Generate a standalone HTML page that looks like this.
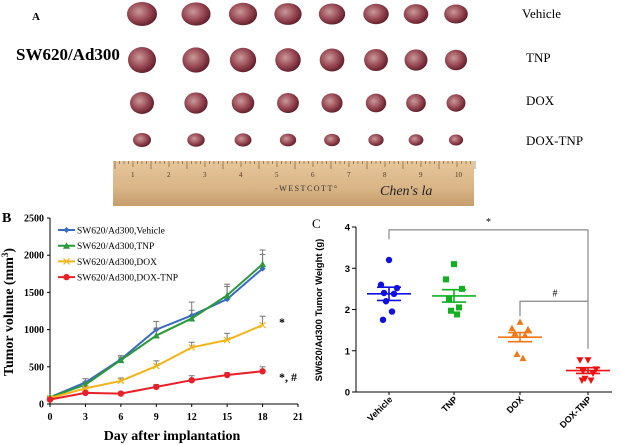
<!DOCTYPE html>
<html><head><meta charset="utf-8"><style>
body{margin:0;background:#fff;width:620px;height:445px;overflow:hidden;font-family:"Liberation Serif",serif}
svg{position:absolute;left:0;top:0}
</style></head><body>
<svg id="fig" width="620" height="445" viewBox="0 0 620 445" xmlns="http://www.w3.org/2000/svg">
<defs>
<radialGradient id="tum" cx="40%" cy="40%" r="65%"><stop offset="0" stop-color="#c99a9a"/><stop offset="0.55" stop-color="#9a4a55"/><stop offset="1" stop-color="#5a1a25"/></radialGradient>
<linearGradient id="wood" x1="0" y1="0" x2="0" y2="1"><stop offset="0" stop-color="#e6c79b"/><stop offset="0.6" stop-color="#d9b486"/><stop offset="1" stop-color="#c79d6c"/></linearGradient>
</defs>
<g>
<text x="32" y="20" font-size="11" font-weight="bold">A</text>
<text x="16" y="60" font-size="17" font-weight="bold">SW620/Ad300</text>
<text x="522" y="18" font-size="13">Vehicle</text>
<text x="526" y="62" font-size="13">TNP</text>
<text x="526" y="105" font-size="13">DOX</text>
<text x="526" y="145" font-size="13">DOX-TNP</text>
<g id="tumors"></g>
<g>
<rect x="113" y="161" width="361" height="45" fill="url(#wood)"/>
<g id="rticks"></g>
<text x="275" y="191" font-size="8" letter-spacing="1.5" fill="#333">-WESTCOTT°</text>
<text x="380" y="195" font-size="14" font-style="italic" fill="#222">Chen's la</text>
</g>
</g>
<g id="chartB"></g>
<g id="chartC"></g>
</svg>
<script>
const NS="http://www.w3.org/2000/svg";
function mk(p,tag,at,txt){const e=document.createElementNS(NS,tag);for(const k in at)e.setAttribute(k,at[k]);if(txt!==undefined)e.textContent=txt;p.appendChild(e);return e;}
// Panel A tumors (decorative)
const tg=document.getElementById('tumors');
const colX=[142,196,243,288,332,376,416,456];
const rowY=[14,60,103,140];
const rowR=[[15,12],[14,13],[12,11],[9,7]];
rowY.forEach((y,ri)=>colX.forEach((x,ci)=>{
 const s=1-ci*0.03;
 const t=mk(tg,'ellipse',{cx:x,cy:y,rx:rowR[ri][0]*s,ry:rowR[ri][1]*s,fill:'url(#tum)'});
 
 
}));
const rt=document.getElementById('rticks');
for(let i=0;i<=80;i++){const x=115+i*4.5;mk(rt,'line',{x1:x,y1:161,x2:x,y2:161+(i%8==0?8:i%4==0?6:3),stroke:'#6a5030','stroke-width':0.6});}
for(let i=1;i<=10;i++)mk(rt,'text',{x:113+(i-0.5)*36,y:177,'font-size':7,fill:'#4a3520'},String(i));

// ===== Chart B data =====
const days=[0,3,6,9,12,15,18];
const vehicle=[90,290,600,1000,1190,1410,1820];
const tnp=[90,260,590,920,1150,1460,1880];
const dox=[80,210,310,510,760,860,1060];
const doxTnp=[60,150,140,230,320,390,440];
const vehErr=[10,50,50,110,180,170,190];
const tnpErr=[10,40,40,100,110,150,190];
const doxErr=[10,30,40,70,70,90,120];
const dtErr=[10,20,20,30,60,30,60];
const bTicksY=[0,500,1000,1500,2000,2500];
const bTicksX=[0,3,6,9,12,15,18,21];
const seriesNames=['SW620/Ad300,Vehicle','SW620/Ad300,TNP','SW620/Ad300,DOX','SW620/Ad300,DOX-TNP'];
// ===== Chart C data =====
const groups=['Vehicle','TNP','DOX','DOX-TNP'];
const wVehicle=[3.2,2.6,2.52,2.4,2.38,2.2,1.95,1.75];
const wTnp=[3.1,2.73,2.5,2.25,2.05,1.97,1.88];
const wDox=[1.7,1.55,1.52,1.42,1.38,0.92,0.82];
const wDoxTnp=[0.77,0.77,0.55,0.5,0.45,0.32,0.28,0.28];
const wMean=[2.38,2.33,1.33,0.52];
const wSem=[0.16,0.15,0.11,0.07];
const cTicksY=[0,1,2,3,4];

// Chart B
(function(){
const g=document.getElementById('chartB');
const X=d=>50+d*(248/21), Y=v=>404-v*(186/2500);
mk(g,'text',{x:2,y:222,'font-size':14,'font-weight':'bold'},'B');
mk(g,'line',{x1:X(0),y1:Y(0),x2:X(21),y2:Y(0),stroke:'#000','stroke-width':1});
mk(g,'line',{x1:X(0),y1:Y(0),x2:X(0),y2:Y(2500),stroke:'#000','stroke-width':1});
bTicksY.forEach(v=>{mk(g,'line',{x1:X(0)-3,y1:Y(v),x2:X(0),y2:Y(v),stroke:'#000'});
 const t=mk(g,'text',{x:X(0)-6,y:Y(v)+3.5,'font-size':10,'font-weight':'bold','text-anchor':'end'},String(v));
 });
bTicksX.forEach(v=>{mk(g,'line',{x1:X(v),y1:Y(0),x2:X(v),y2:Y(0)+3,stroke:'#000'});
 const t=mk(g,'text',{x:X(v),y:Y(0)+16,'font-size':10,'font-weight':'bold','text-anchor':'middle'},String(v));
 });
const yt=mk(g,'text',{x:0,y:0,'font-size':14,'font-weight':'bold','text-anchor':'middle',transform:'translate(13,312) rotate(-90)'});
yt.innerHTML='Tumor volume (mm<tspan dy="-5" font-size="9">3</tspan><tspan dy="5">)</tspan>';

const xt=mk(g,'text',{x:172,y:440,'font-size':14,'font-weight':'bold','text-anchor':'middle'},'Day after implantation');

const all=[[vehicle,vehErr,'#3a6bc4','diamond'],[tnp,tnpErr,'#2a9a3a','tri'],[dox,doxErr,'#f2b51a','x'],[doxTnp,dtErr,'#e8202a','circle']];
all.forEach(([vals,err,col,m],si)=>{
 vals.forEach((v,i)=>{const x=X(days[i]),y=Y(v),ye=Y(v+err[i]);
  mk(g,'line',{x1:x,y1:y,x2:x,y2:ye,stroke:'#777','stroke-width':1});
  mk(g,'line',{x1:x-3,y1:ye,x2:x+3,y2:ye,stroke:'#777','stroke-width':1});});
 const l=mk(g,'polyline',{points:vals.map((v,i)=>X(days[i])+','+Y(v)).join(' '),fill:'none',stroke:col,'stroke-width':2});
 
 const mark=(x,y)=>{let e;
  if(m=='diamond')e=mk(g,'path',{d:`M${x} ${y-3}L${x+3} ${y}L${x} ${y+3}L${x-3} ${y}Z`,fill:col});
  else if(m=='tri')e=mk(g,'path',{d:`M${x} ${y-3.5}L${x+3.5} ${y+3}L${x-3.5} ${y+3}Z`,fill:col});
  else if(m=='x')e=mk(g,'path',{d:`M${x-3} ${y-3}L${x+3} ${y+3}M${x+3} ${y-3}L${x-3} ${y+3}`,stroke:col,'stroke-width':1.2});
  else e=mk(g,'circle',{cx:x,cy:y,r:3.2,fill:col});
  return e;};
 vals.forEach((v,i)=>{const e=mark(X(days[i]),Y(v));});
 const ly=230+si*15.7;
 mk(g,'line',{x1:58,y1:ly,x2:75,y2:ly,stroke:col,'stroke-width':2});mark(66.5,ly);
 const lt=mk(g,'text',{x:77,y:ly+3.5,'font-size':9.5},seriesNames[si]);
 
});
mk(g,'text',{x:279,y:326,'font-size':12,'font-weight':'bold'},'*');
mk(g,'text',{x:279,y:381,'font-size':12,'font-weight':'bold'},'*, #');
})();

// Chart C
(function(){
const g=document.getElementById('chartC');
const cx=[389,454,520,588];
const Y=v=>392-v*(165/4);
mk(g,'text',{x:312,y:228,'font-size':13},'C');
mk(g,'line',{x1:356,y1:Y(0),x2:612,y2:Y(0),stroke:'#000'});
mk(g,'line',{x1:356,y1:Y(0),x2:356,y2:Y(4),stroke:'#000'});
cTicksY.forEach(v=>{mk(g,'line',{x1:352,y1:Y(v),x2:356,y2:Y(v),stroke:'#000'});
 const t=mk(g,'text',{x:350,y:Y(v)+3.5,'font-size':9.5,'font-family':'Liberation Sans,sans-serif','font-weight':'bold','text-anchor':'end'},String(v));
 });
groups.forEach((gn,i)=>{mk(g,'line',{x1:cx[i],y1:Y(0),x2:cx[i],y2:Y(0)+3,stroke:'#000'});
 const t=mk(g,'text',{x:0,y:0,'font-size':9,'font-family':'Liberation Sans,sans-serif','font-weight':'bold','text-anchor':'end',transform:`translate(${cx[i]+4},${Y(0)+8}) rotate(-45)`},gn);
 });
const yt=mk(g,'text',{x:0,y:0,'font-size':9.5,'font-family':'Liberation Sans,sans-serif','font-weight':'bold','text-anchor':'middle',transform:'translate(322,310) rotate(-90)'},'SW620/Ad300 Tumor Weight (g)');

const sets=[wVehicle,wTnp,wDox,wDoxTnp];
const cols=['#1010e0','#10b020','#f07818','#f01010'];
const jit=[0,-8,8,-5,5,-3,3,-6];
sets.forEach((vals,gi)=>{
 vals.forEach((v,i)=>{const x=cx[gi]+jit[i%jit.length],y=Y(v);let e;
  if(gi==0)e=mk(g,'circle',{cx:x,cy:y,r:3.2,fill:cols[gi]});
  else if(gi==1)e=mk(g,'rect',{x:x-3,y:y-3,width:6,height:6,fill:cols[gi]});
  else if(gi==2)e=mk(g,'path',{d:`M${x} ${y-3.5}L${x+3.5} ${y+3}L${x-3.5} ${y+3}Z`,fill:cols[gi]});
  else e=mk(g,'path',{d:`M${x} ${y+3.5}L${x+3.5} ${y-3}L${x-3.5} ${y-3}Z`,fill:cols[gi]});
  });
 const m=wMean[gi],s=wSem[gi],x=cx[gi];
 const ml=mk(g,'line',{x1:x-22,y1:Y(m),x2:x+22,y2:Y(m),stroke:cols[gi],'stroke-width':1.6});
 
 mk(g,'line',{x1:x,y1:Y(m-s),x2:x,y2:Y(m+s),stroke:cols[gi],'stroke-width':1.6});
 mk(g,'line',{x1:x-12,y1:Y(m+s),x2:x+12,y2:Y(m+s),stroke:cols[gi],'stroke-width':1.6});
 mk(g,'line',{x1:x-12,y1:Y(m-s),x2:x+12,y2:Y(m-s),stroke:cols[gi],'stroke-width':1.6});
});
const b1=mk(g,'path',{d:`M${cx[0]} ${Y(3.7)}V${Y(3.93)}H${cx[3]}V${Y(1.05)}`,fill:'none',stroke:'#888','stroke-width':1.2});

mk(g,'text',{x:(cx[0]+cx[3])/2,y:225,'font-size':10,'text-anchor':'middle'},'*');
const b2=mk(g,'path',{d:`M${cx[2]} ${Y(1.84)}V${Y(2.2)}H${cx[3]}`,fill:'none',stroke:'#888','stroke-width':1.2});

mk(g,'text',{x:(cx[2]+cx[3])/2+1,y:Y(2.2)-5,'font-size':10,'text-anchor':'middle'},'#');
})();
</script>
</body></html>
